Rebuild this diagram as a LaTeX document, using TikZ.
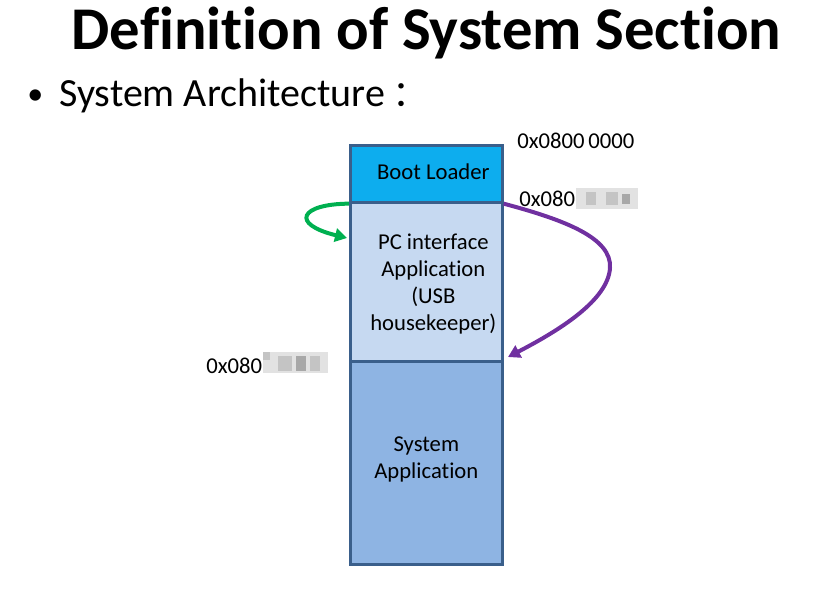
\documentclass[tikz,border=0pt]{standalone}
\usepackage{fontspec}
\setmainfont{Carlito}[Ligatures=NoCommon]
\newfontfamily\cjkfont{Noto Sans CJK SC}
\usetikzlibrary{arrows.meta}
\definecolor{bootc}{HTML}{0DADEE}
\definecolor{pcc}{HTML}{C6D9F1}
\definecolor{sysc}{HTML}{8EB4E3}
\definecolor{edgec}{HTML}{3A5F8B}
\definecolor{greenc}{HTML}{00B050}
\definecolor{purplec}{HTML}{7030A0}
\definecolor{blurA}{HTML}{E2E2E2}
\definecolor{blurB}{HTML}{C4C4C4}
\definecolor{blurC}{HTML}{A8A8A8}
\tikzset{
  blk/.style={draw=edgec, line width=2pt, minimum width=114pt, anchor=north west, inner sep=0pt},
  boxtxt/.style={font=\fontsize{17}{20.25}\selectfont, align=center, text=black, inner sep=0pt},
  addr/.style={font=\fontsize{17}{20}\selectfont, anchor=west, inner sep=0pt},
  arr/.style={line width=3pt, -{Triangle[length=9pt,width=10pt]}},
}
\begin{document}
\begin{tikzpicture}[x=0.75pt,y=-0.75pt]
\useasboundingbox (0,0) rectangle (816,591);
% title
\node[font=\bfseries\fontsize{45.5}{50}\selectfont, anchor=base, inner sep=0pt] (title) at (426.5,50) {Definition of System Section};
\node[font=\fontsize{24}{30}\selectfont, anchor=base west, inner sep=0pt] (bullet) at (27,105) {•};
\node[font=\fontsize{30}{34}\selectfont, anchor=base west, inner sep=0pt] (sub) at (59,107) {System Architecture};
\node[font=\cjkfont\fontsize{27}{30}\selectfont, anchor=base west, inner sep=0pt] (colon) at ([xshift=5pt]sub.base east) {：};
% blocks
\node[blk, fill=sysc, minimum height=152.25pt] (sys) at (349,360) {};
\node[blk, fill=pcc, minimum height=119.25pt] (pc) at (349,201) {};
\node[blk, fill=bootc, minimum height=42.75pt] (boot) at (349,144) {};
\node[boxtxt] (bootT) at ([xshift=5.25pt,yshift=1.5pt]boot.center) {Boot Loader};
\node[boxtxt] (pcT) at ([xshift=5.25pt,yshift=-1.5pt]pc.center) {PC interface\\Application\\(USB\\housekeeper)};
\node[boxtxt] (sysT) at ([yshift=2.5pt]sys.center) {System\\Application};
% addresses
\node[addr] (a0) at (517,141) {0x0800\,0000};
\node[addr] (a1) at (519,199) {0x080};
\node[addr] (a2) at (206,366) {0x080};
% blurred parts
\fill[blurA] (576,188) rectangle (638,209);
\fill[blurB] (586,192) rectangle (596,205);
\fill[blurB] (606,192) rectangle (618,205);
\fill[blurC] (622,194) rectangle (630,204);
\fill[blurA] (263,352) rectangle (328,373);
\fill[blurB] (263,352) rectangle (270,360);
\fill[blurB] (278,356) rectangle (292,371);
\fill[blurC] (296,356) rectangle (306,371);
\fill[blurB] (310,356) rectangle (320,371);
% arrows
\coordinate (gtip) at (347,238);
\coordinate (ptip) at (508,357);
\draw[arr, draw=greenc] (boot.south west) .. controls (300,204) and (290,224) .. (gtip);
\draw[arr, draw=purplec] (boot.south east) .. controls (565,220) and (612,238) .. (610,268) .. controls (608,300) and (560,330) .. (ptip);
\end{tikzpicture}
\end{document}
